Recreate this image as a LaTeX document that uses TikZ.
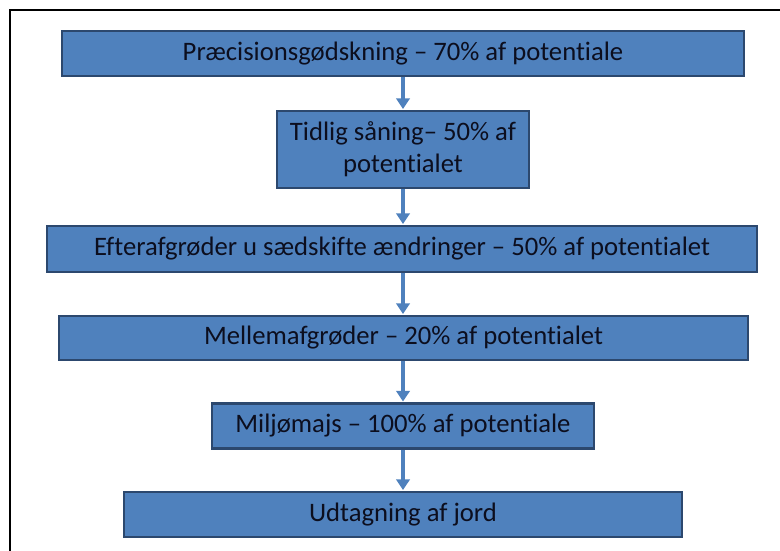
\documentclass[tikz,border=0pt]{standalone}
\usepackage{fontspec}
\setmainfont[Ligatures=NoCommon]{Carlito}
\usetikzlibrary{arrows.meta}
\definecolor{boxfill}{RGB}{79,129,189}
\definecolor{boxline}{RGB}{44,72,110}
\definecolor{boxtext}{RGB}{12,14,30}
\tikzset{
  stepbox/.style={draw=boxline, line width=1.9pt, fill=boxfill, text=boxtext, align=center,
    inner sep=0pt, font=\fontsize{20}{24}\selectfont},
  flow/.style={draw=boxfill, line width=2.8pt, -{Triangle[width=10pt,length=8pt]}, shorten >=0.5pt}
}
\begin{document}
\begin{tikzpicture}[x=0.75pt,y=0.75pt,yscale=-1,xscale=1]
	\clip (0,0) rectangle (780,550);
	\useasboundingbox (0,0) rectangle (780,550);
	% outer frame
	\draw [line width=1.6pt] (10,10) rectangle (800,570);
	
	% boxes
	\node [stepbox, minimum width=511.5pt, minimum height=33.75pt] (prec) at (403,53.5) {Præcisionsgødskning – 70\% af potentiale};
	\node [stepbox, minimum width=189pt, minimum height=57.75pt] (tidlig) at (403,149.5) {Tidlig såning– 50\% af\\potentialet};
	\node [stepbox, minimum width=532.5pt, minimum height=34.5pt] (efter) at (402,249) {Efterafgrøder u sædskifte ændringer – 50\% af potentialet};
	\node [stepbox, minimum width=516.75pt, minimum height=33pt] (mellem) at (403.5,338) {Mellemafgrøder – 20\% af potentialet};
	\node [stepbox, minimum width=286.5pt, minimum height=33.75pt] (miljo) at (403,426) {Miljømajs – 100\% af potentiale};
	\node [stepbox, minimum width=418.5pt, minimum height=33.75pt] (udtag) at (403,514.5) {Udtagning af jord};
	
	% arrows
	\draw [flow] (prec.south -| tidlig.north) -- (tidlig.north);
	\draw [flow] (tidlig.south) -- (tidlig.south |- efter.north);
	\draw [flow] (efter.south -| tidlig.south) -- (tidlig.south |- mellem.north);
	\draw [flow] (mellem.south -| miljo.north) -- (miljo.north);
	\draw [flow] (miljo.south) -- (miljo.south |- udtag.north);
\end{tikzpicture}
\end{document}
